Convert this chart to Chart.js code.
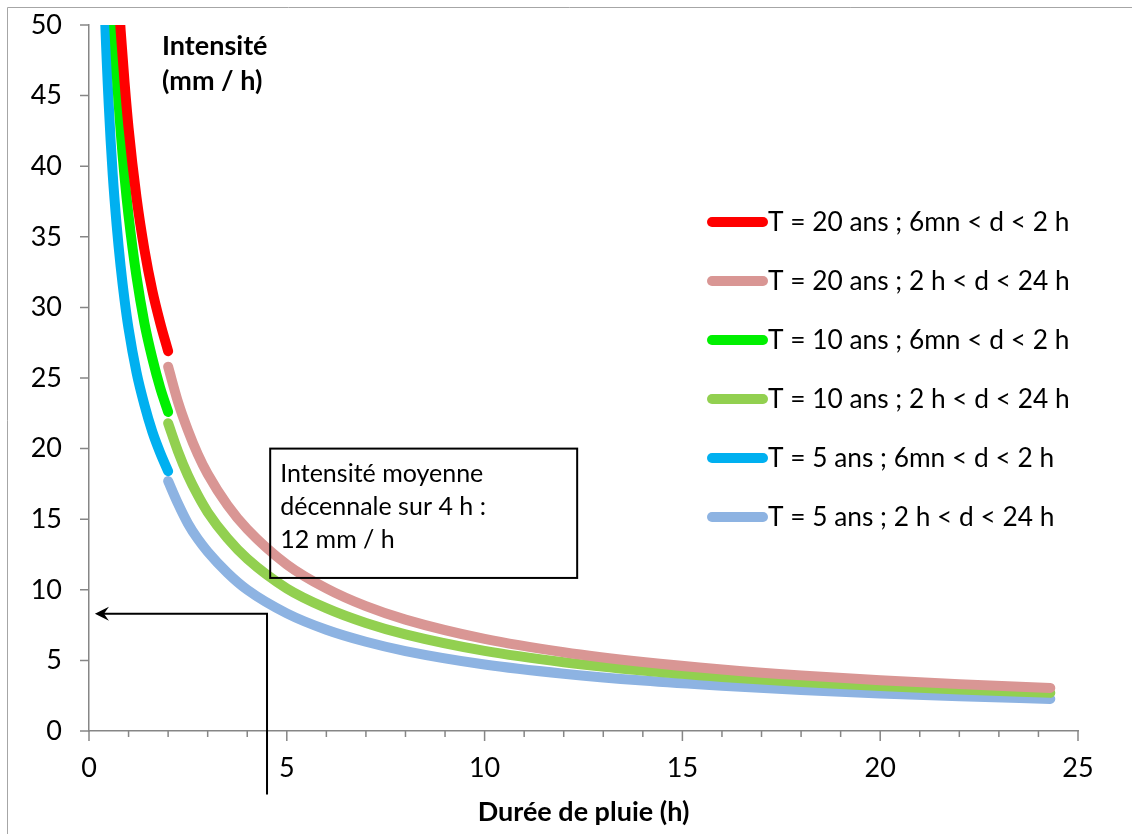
<!DOCTYPE html>
<html>
<head>
<meta charset="utf-8">
<script src="https://cdn.jsdelivr.net/npm/chart.js@4.4.1/dist/chart.umd.min.js"></script>
<style>
  html, body { margin: 0; background: #fff; }
  #wrap { width: 1132px; height: 834px; }
</style>
</head>
<body>
<div id="wrap"><canvas id="idf"></canvas></div>
<script>
// durations (h) and intensities (mm/h)
const shortDur = [0.1, 0.2, 0.3, 0.4, 0.5, 0.6, 0.7, 0.8, 0.9, 1.0, 1.2, 1.4, 1.6, 1.8, 2.0];
const red20   = [199, 125, 95.5, 78.8, 67.9, 60.1, 54.2, 49.6, 45.9, 42.7, 37.8, 34.1, 31.2, 28.9, 26.9];
const green10 = [178.6, 110.7, 83.7, 68.6, 58.8, 51.9, 46.6, 42.5, 39.2, 36.5, 32.2, 28.9, 26.4, 24.3, 22.6];
const blue5   = [122.6, 79.0, 61.1, 51.0, 44.3, 39.4, 35.8, 32.9, 30.5, 28.5, 25.4, 23.1, 21.2, 19.7, 18.4];

const longDur  = [2, 2.25, 2.5, 2.75, 3, 3.5, 4, 5, 6, 7, 8, 10, 12, 14, 16, 18, 20, 22, 24.3];
const pink20   = [25.8, 23.3, 21.3, 19.6, 18.2, 16.0, 14.3, 11.8, 10.1, 8.84, 7.89, 6.52, 5.58, 4.89, 4.36, 3.94, 3.60, 3.32, 3.05];
const lgreen10 = [21.8, 19.8, 18.1, 16.7, 15.5, 13.65, 12.2, 10.1, 8.70, 7.65, 6.84, 5.67, 4.87, 4.28, 3.83, 3.47, 3.18, 2.93, 2.70];
const lblue5   = [17.7, 16.1, 14.7, 13.6, 12.7, 11.2, 10.0, 8.33, 7.17, 6.32, 5.66, 4.71, 4.06, 3.57, 3.20, 2.90, 2.66, 2.46, 2.27];

const seriesLabels = [
  'T = 20 ans ; 6mn < d < 2 h',
  'T = 20 ans ; 2 h < d < 24 h',
  'T = 10 ans ; 6mn < d < 2 h',
  'T = 10 ans ; 2 h < d < 24 h',
  'T = 5 ans ; 6mn < d < 2 h',
  'T = 5 ans ; 2 h < d < 24 h'
];
const seriesColors = ['#ff0000', '#d99694', '#00f000', '#92d050', '#00b0f0', '#8db3e2'];

// note box and arrow, in data units
const noteLines = ['Intensité moyenne', 'décennale sur 4 h :', '12 mm / h'];
const noteBox = { x0: 4.58, x1: 12.34, y0: 20, y1: 10.84 };
const arrow = { x: 4.5, yTop: 8.3, yBottom: -4.5, xTip: 0.15 };

const FONT = 'Lato, "Open Sans", sans-serif';
const axisGray = '#868686';

function pts(xs, ys) {
  return xs.map((x, i) => ({ x: x, y: ys[i] }));
}

const allData = [
  pts(shortDur, red20), pts(longDur, pink20),
  pts(shortDur, green10), pts(longDur, lgreen10),
  pts(shortDur, blue5), pts(longDur, lblue5)
];

const datasets = allData.map((d, i) => ({
  label: seriesLabels[i],
  data: d,
  borderColor: seriesColors[i],
  backgroundColor: seriesColors[i],
  borderWidth: 10,
  borderCapStyle: 'round',
  borderJoinStyle: 'round',
  pointRadius: 0,
  cubicInterpolationMode: 'monotone',
  fill: false,
  clip: 0
}));

// ticks, frame, inner labels, legend and note
const decor = {
  id: 'decor',
  beforeDatasetsDraw(chart) {
    const { ctx, scales: { x, y } } = chart;
    ctx.save();
    ctx.strokeStyle = axisGray;
    ctx.lineWidth = 1.5;
    ctx.beginPath();
    for (let v = 0; v <= 25; v++) {
      const px = x.getPixelForValue(v);
      ctx.moveTo(px, y.bottom);
      ctx.lineTo(px, y.bottom + (v % 5 === 0 ? 10 : 6));
    }
    for (let v = 0; v <= 50; v += 5) {
      const py = y.getPixelForValue(v);
      ctx.moveTo(x.left - 9, py);
      ctx.lineTo(x.left, py);
    }
    ctx.stroke();

    // outer frame
    ctx.strokeStyle = '#a6a6a6';
    ctx.lineWidth = 1;
    ctx.beginPath();
    ctx.moveTo(7.5, chart.height);
    ctx.lineTo(7.5, 7.5);
    ctx.lineTo(chart.width, 7.5);
    ctx.stroke();

    // y title inside the plot
    ctx.fillStyle = '#000';
    ctx.font = 'bold 27px ' + FONT;
    ctx.textAlign = 'left';
    ctx.textBaseline = 'alphabetic';
    ctx.fillText('Intensité', 162, 55);
    ctx.fillText('(mm / h)', 162, 90);
    ctx.restore();
  },
  afterDatasetsDraw(chart) {
    const { ctx, scales: { x, y } } = chart;
    ctx.save();

    // legend
    ctx.font = '26.3px ' + FONT;
    ctx.textAlign = 'left';
    ctx.textBaseline = 'middle';
    chart.data.datasets.forEach((ds, i) => {
      const ry = 222 + i * 59;
      ctx.strokeStyle = ds.borderColor;
      ctx.lineWidth = 10;
      ctx.lineCap = 'round';
      ctx.beginPath();
      ctx.moveTo(712, ry);
      ctx.lineTo(763, ry);
      ctx.stroke();
      ctx.fillStyle = '#000';
      ctx.fillText(ds.label, 768, ry + 1);
    });

    // note box
    const bx0 = x.getPixelForValue(noteBox.x0), bx1 = x.getPixelForValue(noteBox.x1);
    const by0 = y.getPixelForValue(noteBox.y0), by1 = y.getPixelForValue(noteBox.y1);
    ctx.lineCap = 'butt';
    ctx.strokeStyle = '#000';
    ctx.lineWidth = 2;
    ctx.strokeRect(bx0, by0, bx1 - bx0, by1 - by0);
    ctx.fillStyle = '#000';
    ctx.font = '25px ' + FONT;
    ctx.textBaseline = 'alphabetic';
    noteLines.forEach((t, i) => ctx.fillText(t, bx0 + 10, by0 + 33 + i * 33));

    // arrow
    const ax = x.getPixelForValue(arrow.x);
    const ayT = y.getPixelForValue(arrow.yTop);
    const ayB = y.getPixelForValue(arrow.yBottom);
    const tip = x.getPixelForValue(arrow.xTip);
    ctx.lineWidth = 2;
    ctx.beginPath();
    ctx.moveTo(ax, ayB);
    ctx.lineTo(ax, ayT);
    ctx.lineTo(tip + 8, ayT);
    ctx.stroke();
    ctx.beginPath();
    ctx.moveTo(tip, ayT);
    ctx.lineTo(tip + 14, ayT - 7);
    ctx.lineTo(tip + 9, ayT);
    ctx.lineTo(tip + 14, ayT + 7);
    ctx.closePath();
    ctx.fill();
    ctx.restore();
  }
};

const config = {
  type: 'line',
  data: { datasets },
  options: {
    responsive: true,
    maintainAspectRatio: false,
    animation: false,
    layout: { padding: { top: 25, right: 54, left: 0, bottom: 0 } },
    plugins: { legend: { display: false }, tooltip: { enabled: false } },
    scales: {
      x: {
        type: 'linear',
        min: 0,
        max: 25,
        afterFit: (s) => { s.height = 103; s.paddingLeft = 0; s.paddingRight = 0; },
        grid: { drawOnChartArea: false, drawTicks: false },
        border: { color: axisGray, width: 1.5 },
        ticks: { stepSize: 5, padding: 21, color: '#000', font: { family: FONT, size: 27 } },
        title: {
          display: true,
          text: 'Durée de pluie (h)',
          color: '#000',
          font: { family: FONT, size: 27, weight: 'bold' },
          padding: { top: 0, bottom: 6 }
        }
      },
      y: {
        min: 0,
        max: 50,
        afterFit: (s) => { s.width = 89; s.paddingTop = 0; s.paddingBottom = 0; },
        grid: { drawOnChartArea: false, drawTicks: false },
        border: { color: axisGray, width: 1.5 },
        ticks: { stepSize: 5, padding: 27, color: '#000', font: { family: FONT, size: 27 } }
      }
    }
  },
  plugins: [decor]
};

const idfChart = new Chart(document.getElementById('idf'), config);
</script>
</body>
</html>
